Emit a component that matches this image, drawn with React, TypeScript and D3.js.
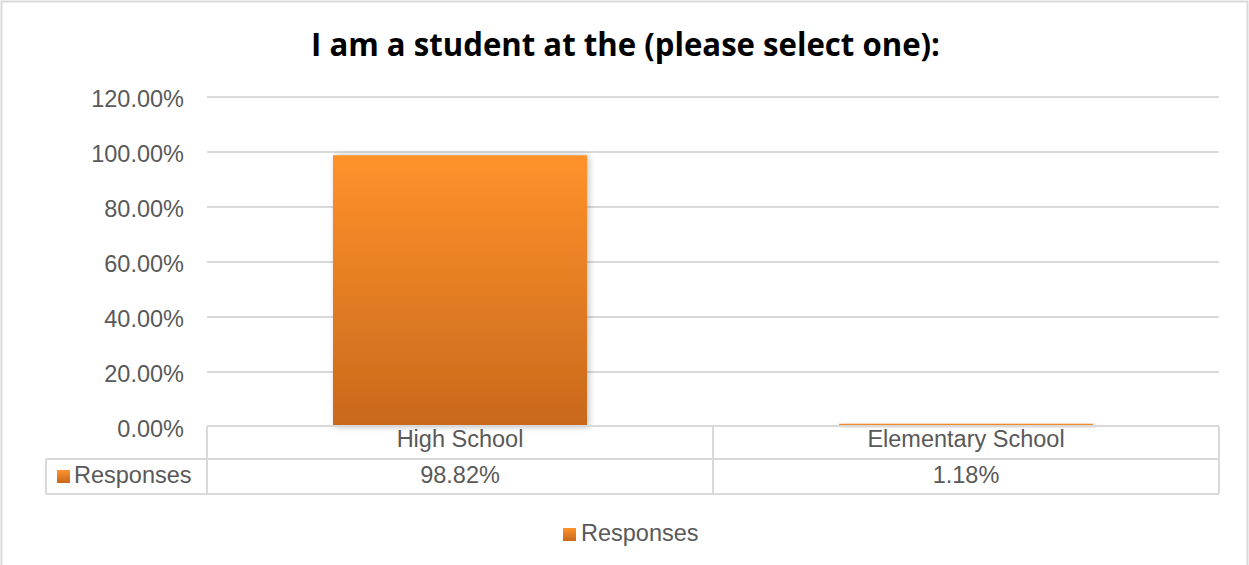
import React from "react";
import * as d3 from "d3";

const categories = ["High School", "Elementary School"];
const responses = [98.82, 1.18];
const seriesName = "Responses";
const yTicks = [0, 20, 40, 60, 80, 100, 120];
const title = "I am a student at the (please select one):";

const W = 1249;
const H = 565;
const plot = { left: 207, right: 1219, top: 97, bottom: 427 };
const tableRow1 = 459;
const tableRow2 = 494;
const tableLeft = 46;

export default function App() {
  const y = d3.scaleLinear().domain([0, 120]).range([plot.bottom, plot.top]);
  const x = d3
    .scaleBand<string>()
    .domain(categories)
    .range([plot.left, plot.right])
    .paddingInner(0.498)
    .paddingOuter(0.249);
  const cat = d3.scaleBand<string>().domain(categories).range([plot.left, plot.right]);
  const fmt = (v: number) => v.toFixed(2) + "%";
  const font = "'Liberation Sans', Arial, sans-serif";
  const grey = "#595959";
  const line = "#d9d9d9";
  const fs = 23.5;

  return (
    <svg
      width={W}
      height={H}
      style={{ position: "absolute", left: 0, top: 0 }}
      fontFamily={font}
    >
      <defs>
        <linearGradient id="barGrad" x1="0" y1="0" x2="0" y2="1">
          <stop offset="0%" stopColor="#ff922b" />
          <stop offset="100%" stopColor="#c8681c" />
        </linearGradient>
        <filter id="shadow" x="-10%" y="-10%" width="125%" height="120%">
          <feGaussianBlur in="SourceAlpha" stdDeviation="3" />
          <feOffset dx="2" dy="0" result="b" />
          <feComponentTransfer>
            <feFuncA type="linear" slope="0.25" />
          </feComponentTransfer>
          <feMerge>
            <feMergeNode />
            <feMergeNode in="SourceGraphic" />
          </feMerge>
        </filter>
      </defs>
      <rect x={0} y={0} width={W} height={H} fill="#fff" />
      <rect x={1.5} y={1.5} width={W - 3} height={H + 10} fill="none" stroke={line} strokeWidth={2} />

      <text
        x={625.5}
        y={56}
        textAnchor="middle"
        fontFamily="'Open Sans', 'Noto Sans', sans-serif"
        fontWeight={700}
        fontSize={32}
        textLength={629}
        lengthAdjust="spacingAndGlyphs"
        fill="#000"
      >
        {title}
      </text>

      {/* gridlines and y-axis labels */}
      {yTicks.map((t) => (
        <g key={t}>
          {t > 0 && (
            <line x1={plot.left} x2={plot.right} y1={y(t)} y2={y(t)} stroke={line} strokeWidth={2} />
          )}
          <text x={184} y={y(t) + 10} textAnchor="end" fontSize={fs} fill={grey}>
            {fmt(t)}
          </text>
        </g>
      ))}

      {/* bars */}
      {categories.map((c, i) => (
        <rect
          key={c}
          x={x(c)}
          y={y(responses[i])}
          width={x.bandwidth()}
          height={plot.bottom - y(responses[i])}
          fill="url(#barGrad)"
          filter="url(#shadow)"
        />
      ))}

      {/* data table */}
      <g fill="none" stroke={line} strokeWidth={2}>
        <line x1={plot.left} x2={plot.right} y1={plot.bottom - 1} y2={plot.bottom - 1} />
        <line x1={tableLeft} x2={plot.right} y1={tableRow1} y2={tableRow1} />
        <line x1={tableLeft} x2={plot.right} y1={tableRow2} y2={tableRow2} />
        <line x1={tableLeft} x2={tableLeft} y1={tableRow1} y2={tableRow2} />
        <line x1={plot.left} x2={plot.left} y1={plot.bottom - 1} y2={tableRow2} />
        {categories.map((c) => (
          <line
            key={c}
            x1={(cat(c) as number) + cat.bandwidth()}
            x2={(cat(c) as number) + cat.bandwidth()}
            y1={plot.bottom - 1}
            y2={tableRow2}
          />
        ))}
      </g>
      {categories.map((c, i) => {
        const cx = (cat(c) as number) + cat.bandwidth() / 2;
        return (
          <g key={c}>
            <text x={cx} y={447} textAnchor="middle" fontSize={fs} fill={grey}>
              {c}
            </text>
            <text x={cx} y={483} textAnchor="middle" fontSize={fs} fill={grey}>
              {fmt(responses[i])}
            </text>
          </g>
        );
      })}
      <rect x={57} y={470} width={13} height={13} fill="url(#barGrad)" />
      <text x={74} y={483} fontSize={fs} fill={grey}>
        {seriesName}
      </text>

      {/* legend */}
      <rect x={563} y={528} width={13} height={13} fill="url(#barGrad)" />
      <text x={581} y={541} fontSize={fs} fill={grey}>
        {seriesName}
      </text>
    </svg>
  );
}
